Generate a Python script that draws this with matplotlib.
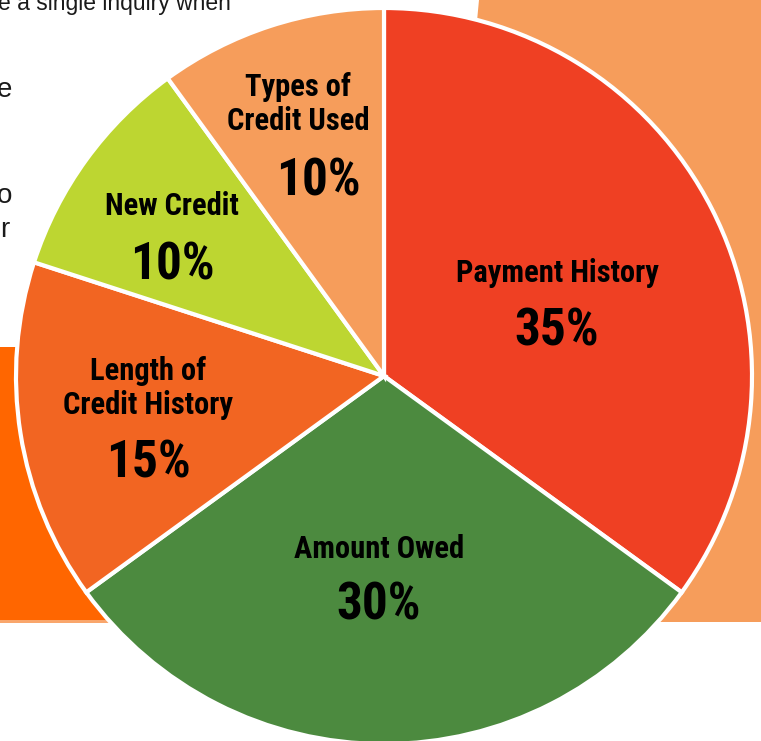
import matplotlib
matplotlib.use("Agg")
import matplotlib.pyplot as plt
from matplotlib.patches import Polygon, Rectangle

# ---- data ----
categories = ["Payment History", "Amount Owed", "Length of\nCredit History", "New Credit", "Types of\nCredit Used"]
values = [35, 30, 15, 10, 10]
colors = ["#EF4023", "#4C8A3F", "#F26522", "#BDD631", "#F69D5B"]

# ---- layout (pixel coords, y downward) ----
W, H = 761, 741
center = (384, 376)
radius = 368
# (x, baseline of last name line, baseline of pct, pct x)
label_pos = [
    (557, 282, 345, 557),
    (379, 558, 620, 379),
    (148, 414, 478, 148),
    (172, 215, 280, 172),
    (298, 130, 195, 318),
]

fig = plt.figure(figsize=(W / 100, H / 100), dpi=100)
ax = fig.add_axes([0, 0, 1, 1])

fam = ["Roboto Condensed", "DejaVu Sans"]
fam_txt = ["Liberation Sans", "DejaVu Sans"]

# background decorations
ax.add_patch(Rectangle((0, 347), 110, 273, facecolor="#FF6600", edgecolor="none", zorder=0))
ax.add_patch(Rectangle((0, 620), 110, 3, facecolor="#F9A66C", edgecolor="none", zorder=0))
ax.add_patch(Polygon([(479, 0), (761, 0), (761, 622), (420, 622)], closed=True,
                     facecolor="#F69D5B", edgecolor="none", zorder=0))

# background partial text
ax.text(231, 10, "le a single inquiry when", ha="right", va="baseline", fontsize=16.5,
        family=fam_txt, color="#1a1a1a", zorder=1)
tkw = dict(ha="right", va="baseline", fontsize=20, family=fam_txt, color="#1a1a1a", zorder=1)
ax.text(12, 97, "e", **tkw)
ax.text(12, 203, "o", **tkw)
ax.text(9, 237, "r", **tkw)

# pie (y axis inverted, so counterclock=True draws clockwise on screen; start at top)
wedges, _ = ax.pie(values, colors=colors, center=center, radius=radius,
                   startangle=-90, counterclock=True, frame=True,
                   wedgeprops=dict(edgecolor="white", linewidth=3, zorder=2))
ax.set_xlim(0, W)
ax.set_ylim(H, 0)
ax.set_aspect("equal")
ax.axis("off")

for cat, v, (x, yb, yp, xp) in zip(categories, values, label_pos):
    ax.text(x, yb, cat, ha="center", va="baseline", fontsize=22, fontweight="bold",
            family=fam, color="black", linespacing=1.15, multialignment="center", zorder=3)
    ax.text(xp, yp, f"{v}%", ha="center", va="baseline", fontsize=37, fontweight="bold",
            family=fam, color="black", zorder=3)

fig.savefig("out.png", dpi=100)
